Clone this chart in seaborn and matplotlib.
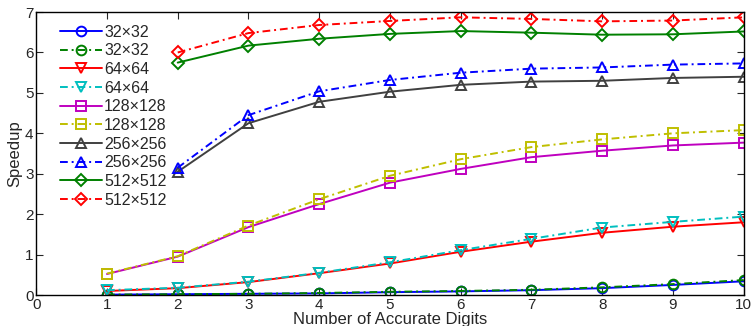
import numpy as np
import pandas as pd
import seaborn as sns
import matplotlib.pyplot as plt

# digits of accuracy on x axis
digits = [1, 2, 3, 4, 5, 6, 7, 8, 9, 10]
digits_big = [2, 3, 4, 5, 6, 7, 8, 9, 10]

# speedup per grid size (two variants each)
s32_a = [0.01, 0.02, 0.03, 0.04, 0.07, 0.09, 0.12, 0.17, 0.25, 0.34]
s32_b = [0.01, 0.02, 0.03, 0.05, 0.08, 0.10, 0.13, 0.19, 0.27, 0.37]
s64_a = [0.10, 0.17, 0.32, 0.54, 0.78, 1.07, 1.32, 1.54, 1.69, 1.80]
s64_b = [0.12, 0.18, 0.33, 0.55, 0.81, 1.11, 1.39, 1.67, 1.81, 1.94]
s128_a = [0.52, 0.95, 1.68, 2.25, 2.78, 3.12, 3.41, 3.57, 3.70, 3.77]
s128_b = [0.53, 0.96, 1.72, 2.37, 2.95, 3.36, 3.66, 3.85, 4.00, 4.08]
s256_a = [3.05, 4.25, 4.78, 5.03, 5.20, 5.28, 5.30, 5.37, 5.40]
s256_b = [3.15, 4.45, 5.04, 5.32, 5.50, 5.60, 5.63, 5.70, 5.73]
s512_a = [5.75, 6.17, 6.34, 6.46, 6.53, 6.49, 6.44, 6.45, 6.52]
s512_b = [6.00, 6.48, 6.68, 6.78, 6.87, 6.83, 6.77, 6.79, 6.87]

labels = ['32\u00d732', '32\u00d732', '64\u00d764', '64\u00d764', '128\u00d7128',
          '128\u00d7128', '256\u00d7256', '256\u00d7256', '512\u00d7512', '512\u00d7512']

dashdot = (0, (4, 2, 1, 2))
series = [
    (digits, s32_a, '#0000ff', '-', 'o'),
    (digits, s32_b, '#008000', dashdot, 'o'),
    (digits, s64_a, '#ff0000', '-', 'v'),
    (digits, s64_b, '#00bfbf', dashdot, 'v'),
    (digits, s128_a, '#bf00bf', '-', 's'),
    (digits, s128_b, '#bfbf00', dashdot, 's'),
    (digits_big, s256_a, '#404040', '-', '^'),
    (digits_big, s256_b, '#0000ff', dashdot, '^'),
    (digits_big, s512_a, '#008000', '-', 'D'),
    (digits_big, s512_b, '#ff0000', dashdot, 'D'),
]

sns.set_style('ticks')
plt.rcParams['font.family'] = ['Liberation Sans', 'DejaVu Sans']

fig = plt.figure(figsize=(7.55, 3.26), dpi=100)
ax = fig.add_axes([0.048, 0.095, 0.937, 0.868])

for (x, y, col, ls, mk), lab in zip(series, labels):
    df = pd.DataFrame({'x': x, 'y': y})
    sns.lineplot(data=df, x='x', y='y', ax=ax, color=col, linestyle=ls,
                 linewidth=1.4, marker=mk, markersize=7 if mk != 'D' else 6,
                 markerfacecolor='none', markeredgecolor=col, markeredgewidth=1.4,
                 label=lab)

ax.set_xlim(0, 10)
ax.set_ylim(0, 7)
ax.set_xticks(range(0, 11))
ax.set_yticks(range(0, 8))
ax.tick_params(direction='in', top=True, right=True, labelsize=11, length=5, pad=2)
ax.set_xlabel('Number of Accurate Digits', fontsize=12, labelpad=0)
ax.set_ylabel('Speedup', fontsize=12, labelpad=2)
for sp in ax.spines.values():
    sp.set_linewidth(1.0)
    sp.set_color('black')

ax.legend(loc='upper left', frameon=False, fontsize=11.5, handlelength=2.6,
          handletextpad=0.15, labelspacing=0.23, borderaxespad=0.0,
          bbox_to_anchor=(0.025, 0.978))

fig.savefig('out.png', dpi=100)
